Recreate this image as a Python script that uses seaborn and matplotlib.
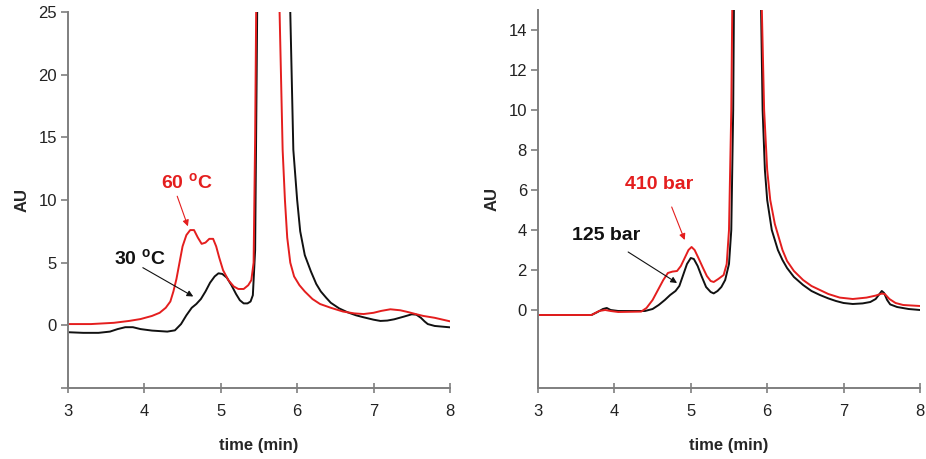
import numpy as np
import pandas as pd
import matplotlib
matplotlib.use("Agg")
import matplotlib.pyplot as plt
import seaborn as sns

# ---------------- data ----------------
# Left panel: temperature
t_30C = [3.0, 3.2, 3.4, 3.55, 3.65, 3.75, 3.85, 3.95, 4.1, 4.3, 4.4, 4.48, 4.55, 4.62, 4.68,
         4.74, 4.8, 4.86, 4.92, 4.97, 5.02, 5.08, 5.14, 5.2, 5.25, 5.3, 5.35, 5.39, 5.42,
         5.45, 5.47, 5.49, 5.65, 5.88, 5.91, 5.95, 6.0, 6.04, 6.1, 6.18, 6.25, 6.31, 6.38,
         6.44, 6.55, 6.66, 6.77, 6.87, 7.0, 7.09, 7.18, 7.27, 7.4, 7.5, 7.56, 7.62, 7.67,
         7.71, 7.8, 8.0]
au_30C = [-0.55, -0.6, -0.6, -0.5, -0.3, -0.15, -0.15, -0.3, -0.42, -0.5, -0.4, 0.1, 0.8, 1.4, 1.7,
          2.1, 2.7, 3.4, 3.9, 4.15, 4.1, 3.8, 3.2, 2.5, 2.0, 1.75, 1.75, 1.9, 2.4,
          6.0, 20.0, 35.0, 60.0, 35.0, 25.0, 14.0, 10.0, 7.5, 5.6, 4.3, 3.3, 2.7, 2.2,
          1.8, 1.35, 1.04, 0.8, 0.64, 0.45, 0.35, 0.38, 0.48, 0.7, 0.88, 0.85, 0.6, 0.3,
          0.1, -0.05, -0.16]

t_60C = [3.0, 3.3, 3.6, 3.8, 3.95, 4.1, 4.2, 4.28, 4.34, 4.38, 4.42, 4.46, 4.5, 4.55, 4.6,
         4.65, 4.7, 4.75, 4.8, 4.85, 4.9, 4.94, 4.98, 5.03, 5.1, 5.17, 5.23, 5.3, 5.36, 5.4,
         5.43, 5.45, 5.47, 5.6, 5.74, 5.77, 5.81, 5.84, 5.87, 5.91, 5.96, 6.03, 6.1, 6.2,
         6.3, 6.44, 6.6, 6.75, 6.87, 7.0, 7.1, 7.22, 7.35, 7.45, 7.55, 7.65, 7.8, 8.0]
au_60C = [0.1, 0.1, 0.2, 0.35, 0.5, 0.75, 1.0, 1.4, 1.9, 2.7, 3.7, 5.0, 6.3, 7.2, 7.6,
          7.6, 7.0, 6.5, 6.6, 6.9, 6.9, 6.3, 5.4, 4.4, 3.6, 3.1, 2.9, 2.9, 3.2, 3.6,
          5.0, 15.0, 30.0, 60.0, 35.0, 25.0, 14.0, 10.0, 7.0, 5.0, 3.9, 3.2, 2.7, 2.1,
          1.7, 1.4, 1.1, 0.95, 0.9, 1.0, 1.15, 1.28, 1.2, 1.06, 0.9, 0.75, 0.6, 0.32]

# Right panel: pressure
t_125bar = [3.0, 3.7, 3.78, 3.85, 3.9, 3.95, 4.05, 4.4, 4.5, 4.58, 4.66, 4.73, 4.8, 4.85, 4.9,
            4.95, 5.0, 5.04, 5.09, 5.14, 5.2, 5.26, 5.3, 5.35, 5.4, 5.45, 5.5, 5.53, 5.555,
            5.57, 5.7, 5.89, 5.92, 5.94, 5.97, 6.0, 6.06, 6.14, 6.2, 6.26, 6.35, 6.47, 6.58,
            6.69, 6.8, 6.9, 7.0, 7.12, 7.25, 7.35, 7.42, 7.47, 7.5, 7.53, 7.57, 7.61, 7.7,
            7.85, 8.0]
au_125bar = [-0.25, -0.25, -0.1, 0.05, 0.1, 0.0, -0.05, -0.05, 0.05, 0.25, 0.5, 0.75, 0.95, 1.2, 1.75,
             2.3, 2.6, 2.55, 2.2, 1.7, 1.15, 0.9, 0.83, 0.95, 1.15, 1.5, 2.3, 4.0, 10.0,
             18.0, 50.0, 25.0, 15.0, 10.0, 7.0, 5.5, 4.0, 3.0, 2.5, 2.1, 1.65, 1.25, 0.95,
             0.75, 0.58, 0.45, 0.35, 0.3, 0.33, 0.4, 0.55, 0.8, 0.95, 0.85, 0.5, 0.28, 0.15,
             0.05, 0.0]

t_410bar = [3.0, 3.7, 3.8, 3.88, 3.95, 4.05, 4.35, 4.42, 4.5, 4.57, 4.64, 4.7, 4.76, 4.82, 4.87,
            4.92, 4.97, 5.01, 5.05, 5.1, 5.16, 5.21, 5.26, 5.3, 5.36, 5.43, 5.47, 5.5, 5.53,
            5.55, 5.7, 5.9, 5.93, 5.96, 6.0, 6.04, 6.1, 6.2, 6.26, 6.35, 6.47, 6.58, 6.69,
            6.8, 6.95, 7.12, 7.3, 7.42, 7.5, 7.54, 7.6, 7.68, 7.78, 8.0]
au_410bar = [-0.25, -0.25, -0.05, 0.0, -0.05, -0.1, -0.08, 0.1, 0.5, 1.0, 1.5, 1.85, 1.92, 1.95, 2.2,
             2.6, 3.0, 3.15, 3.0, 2.6, 2.1, 1.7, 1.45, 1.4, 1.55, 1.75, 2.3, 4.0, 10.0,
             18.0, 50.0, 25.0, 15.0, 10.0, 7.0, 5.5, 4.3, 3.0, 2.45, 1.95, 1.5, 1.2, 1.0,
             0.8, 0.62, 0.55, 0.62, 0.72, 0.82, 0.8, 0.55, 0.35, 0.25, 0.2]

x_ticks = [3, 4, 5, 6, 7, 8]
left_yticks = [-5, 0, 5, 10, 15, 20, 25]
left_yticklabels = ["", "0", "5", "10", "15", "20", "25"]
right_yticks = [0, 2, 4, 6, 8, 10, 12, 14]
right_yticklabels = ["0", "2", "4", "6", "8", "10", "12", "14"]

RED = "#e41e1e"
BLACK = "#111111"

# ---------------- styling ----------------
sns.set_style("white")
plt.rcParams["font.family"] = ["Liberation Sans", "DejaVu Sans"]
plt.rcParams["mathtext.fontset"] = "custom"
plt.rcParams["mathtext.rm"] = "Liberation Sans"
plt.rcParams["mathtext.bf"] = "Liberation Sans:bold"

fig = plt.figure(figsize=(9.26, 4.59), dpi=100)
axL = fig.add_axes([0.0734, 0.1547, 0.4125, 0.8192])
axR = fig.add_axes([0.5810, 0.1547, 0.4125, 0.8235])

def style_axes(ax):
    for s in ["top", "right"]:
        ax.spines[s].set_visible(False)
    for s in ["left", "bottom"]:
        ax.spines[s].set_color("#7f7f7f")
        ax.spines[s].set_linewidth(1.4)
    ax.tick_params(axis="x", bottom=True, direction="inout", length=7, width=1.2,
                   color="#7f7f7f", labelsize=12, labelcolor="#222222", pad=8)
    ax.tick_params(axis="y", left=True, direction="out", length=5, width=1.2,
                   color="#7f7f7f", labelsize=12, labelcolor="#222222", pad=3)
    ax.set_xlim(3, 8)
    ax.set_xticks(x_ticks)
    ax.set_xlabel("time (min)", fontsize=12, fontweight="bold", labelpad=14)
    ax.set_ylabel("AU", fontsize=12, fontweight="bold", labelpad=6)
    ax.grid(False)

# Left panel
df30 = pd.DataFrame({"t": t_30C, "au": au_30C})
df60 = pd.DataFrame({"t": t_60C, "au": au_60C})
sns.lineplot(data=df30, x="t", y="au", ax=axL, color=BLACK, lw=1.4, estimator=None, sort=False)
sns.lineplot(data=df60, x="t", y="au", ax=axL, color=RED, lw=1.4, estimator=None, sort=False)
axL.set_ylim(-5, 25)
axL.set_yticks(left_yticks)
axL.set_yticklabels(left_yticklabels)
style_axes(axL)

axL.text(4.56, 11.4, "60 $^{\\mathbf{o}}$C", color=RED, fontsize=14, fontweight="bold",
         ha="center", va="center")
axL.annotate("", xy=(4.57, 7.9), xytext=(4.43, 10.3),
             arrowprops=dict(arrowstyle="-|>", color=RED, lw=0.8, mutation_scale=9,
                             shrinkA=0, shrinkB=0))
axL.text(3.94, 5.3, "30 $^{\\mathbf{o}}$C", color=BLACK, fontsize=14, fontweight="bold",
         ha="center", va="center")
axL.annotate("", xy=(4.64, 2.3), xytext=(3.98, 4.6),
             arrowprops=dict(arrowstyle="-|>", color=BLACK, lw=0.8, mutation_scale=9,
                             shrinkA=0, shrinkB=0))

# Right panel
df125 = pd.DataFrame({"t": t_125bar, "au": au_125bar})
df410 = pd.DataFrame({"t": t_410bar, "au": au_410bar})
sns.lineplot(data=df125, x="t", y="au", ax=axR, color=BLACK, lw=1.4, estimator=None, sort=False)
sns.lineplot(data=df410, x="t", y="au", ax=axR, color=RED, lw=1.4, estimator=None, sort=False)
axR.set_ylim(-3.9, 15)
axR.set_yticks(right_yticks)
axR.set_yticklabels(right_yticklabels)
style_axes(axR)

axR.text(4.59, 6.25, "410 bar", color=RED, fontsize=14, fontweight="bold",
         ha="center", va="center")
axR.annotate("", xy=(4.92, 3.5), xytext=(4.75, 5.15),
             arrowprops=dict(arrowstyle="-|>", color=RED, lw=0.8, mutation_scale=9,
                             shrinkA=0, shrinkB=0))
axR.text(3.89, 3.7, "125 bar", color=BLACK, fontsize=14, fontweight="bold",
         ha="center", va="center")
axR.annotate("", xy=(4.82, 1.35), xytext=(4.18, 2.9),
             arrowprops=dict(arrowstyle="-|>", color=BLACK, lw=0.8, mutation_scale=9,
                             shrinkA=0, shrinkB=0))

fig.savefig("out.png", dpi=100)
